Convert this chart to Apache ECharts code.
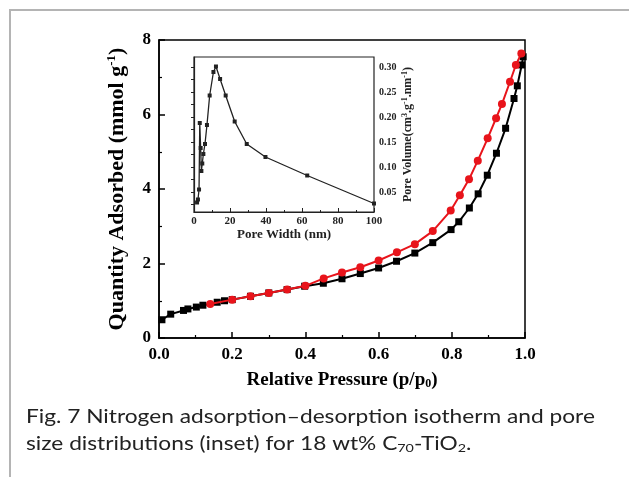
<!DOCTYPE html>
<html><head><meta charset="utf-8">
<script src="https://cdn.jsdelivr.net/npm/echarts@6/dist/echarts.min.js"></script>
<style>html,body{margin:0;padding:0;background:#fff}#c{width:629px;height:477px}</style>
</head><body><div id="c"></div>
<script>
// Main isotherm: adsorption (black squares)
const adsX = [0.008,0.032,0.067,0.079,0.102,0.120,0.159,0.179,0.200,0.250,0.300,0.350,0.398,0.449,0.500,0.550,0.600,0.649,0.699,0.748,0.798,0.819,0.848,0.872,0.897,0.922,0.947,0.970,0.979,0.991,0.995];
const adsY = [0.49,0.64,0.74,0.78,0.83,0.88,0.96,1.00,1.03,1.12,1.21,1.30,1.39,1.47,1.59,1.73,1.88,2.06,2.28,2.56,2.91,3.12,3.49,3.87,4.37,4.96,5.63,6.43,6.77,7.33,7.55];
// Desorption (red circles)
const desX = [0.140,0.200,0.250,0.300,0.350,0.400,0.450,0.500,0.550,0.600,0.650,0.699,0.748,0.797,0.822,0.847,0.871,0.898,0.921,0.937,0.959,0.975,0.990];
const desY = [0.91,1.03,1.12,1.21,1.30,1.40,1.60,1.76,1.90,2.08,2.30,2.52,2.87,3.42,3.83,4.26,4.76,5.36,5.90,6.28,6.88,7.33,7.64];
// Inset: pore size distribution
const poreW = [1.7,2.2,2.8,3.2,3.7,4.1,4.6,5.2,6.1,7.2,8.7,10.8,12.2,14.5,17.6,22.6,29.3,39.7,62.9,100];
const poreV = [0.029,0.035,0.055,0.188,0.138,0.092,0.107,0.126,0.146,0.184,0.243,0.290,0.301,0.276,0.243,0.191,0.146,0.120,0.083,0.027];
const mainXTicks = [0, 0.2, 0.4, 0.6, 0.8, 1.0];
const mainYTicks = [0, 2, 4, 6, 8];
const insetYLabels = [0.05,0.10,0.15,0.20,0.25,0.30];
const insetYTicks = [0.025,0.05,0.075,0.10,0.125,0.15,0.175,0.20,0.225,0.25,0.275,0.30];

const zip = (a,b) => a.map((v,i)=>[v,b[i]]);
const serif = 'Liberation Serif';
const chart = echarts.init(document.getElementById('c'), null, {renderer:'canvas'});
chart.setOption({
  animation:false,
  backgroundColor:'#fff',
  grid:[
    {left:159, top:40, width:366, height:298, show:true, borderColor:'#000', borderWidth:1.5, backgroundColor:'transparent'},
    {left:194, top:57, width:180, height:155, show:true, borderColor:'#222', borderWidth:1.2, backgroundColor:'#fff'}
  ],
  xAxis:[
    {gridIndex:0, type:'value', min:0, max:1, interval:0.2,
     axisLine:{lineStyle:{color:'#000', width:1.5}},
     axisTick:{inside:true, length:6, lineStyle:{color:'#000', width:1.5}},
     minorTick:{show:true, splitNumber:2, length:3, lineStyle:{color:'#000', width:1.2}},
     splitLine:{show:false},
     axisLabel:{color:'#000', fontFamily:serif, fontWeight:'bold', fontSize:17, margin:8, formatter:v=>v.toFixed(1)},
     name:'Relative Pressure (p/p{sub|0})', nameLocation:'middle', nameGap:32,
     nameTextStyle:{color:'#000', fontFamily:serif, fontWeight:'bold', fontSize:19,
       rich:{sub:{fontFamily:serif, fontWeight:'bold', fontSize:12, verticalAlign:'bottom', padding:[8,0,0,0]}}}},
    {gridIndex:1, type:'value', min:0, max:100, interval:20,
     axisLine:{lineStyle:{color:'#222', width:1.2}},
     axisTick:{inside:true, length:4, lineStyle:{color:'#222'}},
     minorTick:{show:true, splitNumber:2, length:2, lineStyle:{color:'#222'}},
     splitLine:{show:false},
     axisLabel:{color:'#222', fontFamily:serif, fontWeight:'bold', fontSize:11, margin:4},
     name:'Pore Width (nm)', nameLocation:'middle', nameGap:16,
     nameTextStyle:{color:'#222', fontFamily:serif, fontWeight:'bold', fontSize:13}}
  ],
  yAxis:[
    {gridIndex:0, type:'value', min:0, max:8, interval:2,
     axisLine:{lineStyle:{color:'#000', width:1.5}},
     axisTick:{inside:true, length:6, lineStyle:{color:'#000', width:1.5}},
     minorTick:{show:true, splitNumber:2, length:3, lineStyle:{color:'#000', width:1.2}},
     splitLine:{show:false},
     axisLabel:{color:'#000', fontFamily:serif, fontWeight:'bold', fontSize:17, margin:8},
     name:'Quantity Adsorbed (mmol g{sup|-1})', nameLocation:'middle', nameGap:30, nameRotate:90,
     nameTextStyle:{color:'#000', fontFamily:serif, fontWeight:'bold', fontSize:22,
       rich:{sup:{fontFamily:serif, fontWeight:'bold', fontSize:13, verticalAlign:'top', padding:[0,0,11,0]}}}},
    {gridIndex:1, type:'value', position:'right', min:0.01, max:0.32,
     axisLine:{lineStyle:{color:'#222', width:1.2}},
     axisTick:{inside:true, length:3, customValues:insetYTicks, lineStyle:{color:'#222'}},
     splitLine:{show:false},
     axisLabel:{color:'#222', fontFamily:serif, fontWeight:'bold', fontSize:10, margin:5, customValues:insetYLabels, formatter:v=>v.toFixed(2)},
     name:'Pore Volume(cm{sup|3}.g{sup|-1}.nm{sup|-1})', nameLocation:'middle', nameGap:27, nameRotate:90,
     nameTextStyle:{color:'#222', fontFamily:serif, fontWeight:'bold', fontSize:12,
       rich:{sup:{fontFamily:serif, fontWeight:'bold', fontSize:8, verticalAlign:'top', padding:[0,0,6,0]}}}}
  ],
  series:[
    {type:'line', xAxisIndex:0, yAxisIndex:0, data:zip(adsX,adsY), symbol:'rect', symbolSize:7,
     lineStyle:{color:'#000', width:2}, itemStyle:{color:'#000'}, z:2},
    {type:'line', xAxisIndex:0, yAxisIndex:0, data:zip(desX,desY), symbol:'circle', symbolSize:8,
     lineStyle:{color:'#e8141b', width:2}, itemStyle:{color:'#e8141b'}, z:3},
    {type:'line', xAxisIndex:1, yAxisIndex:1, data:zip(poreW,poreV), symbol:'rect', symbolSize:4,
     lineStyle:{color:'#222', width:1.3}, itemStyle:{color:'#222'}, z:4}
  ],
  graphic:[
    {type:'polyline', shape:{points:[[10,477],[10,10],[629,10]]}, style:{stroke:'#b4b4b4', lineWidth:2, fill:null}, silent:true},
    {type:'text', x:26, y:407, scaleX:1.195, originX:0, originY:0,
     style:{text:'Fig. 7 Nitrogen adsorption\u2013desorption isotherm and pore', font:'19px Lato', fill:'#222', verticalAlign:'top'}},
    {type:'text', x:26, y:434, scaleX:1.195, originX:0, originY:0,
     style:{text:'size distributions (inset) for 18 wt% C{sub|70}-TiO{sub|2}.', font:'19px Lato', fill:'#222', verticalAlign:'top',
      rich:{sub:{fontFamily:'Lato', fontSize:12, verticalAlign:'bottom', padding:[8,0,0,0]}}}}
  ]
});
</script></body></html>
